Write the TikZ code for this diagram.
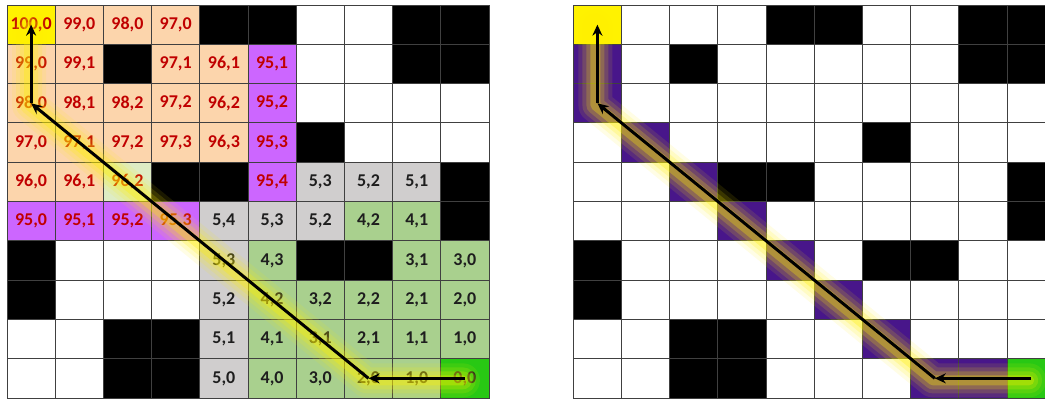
\documentclass[tikz,border=0pt]{standalone}
\usepackage{fontspec}
\setmainfont{Carlito}
\usetikzlibrary{arrows.meta}
\definecolor{peach}{RGB}{252,213,172}
\definecolor{viol}{RGB}{204,102,255}
\definecolor{grayc}{RGB}{208,206,206}
\definecolor{greenc}{RGB}{169,208,142}
\definecolor{paleg}{RGB}{222,236,196}
\definecolor{bgreen}{RGB}{40,200,20}
\definecolor{redt}{RGB}{192,0,0}
\definecolor{darkt}{RGB}{30,30,30}
\definecolor{dpurple}{RGB}{72,22,138}
\definecolor{gridl}{RGB}{64,64,64}
\definecolor{glowy}{RGB}{255,240,0}
\tikzset{
  cellbox/.style={draw=gridl, line width=1pt, minimum width=48.2pt, minimum height=39.3pt,
    inner sep=0pt, font=\fontsize{18}{20}\selectfont\bfseries},
  cY/.style={cellbox, fill=yellow, text=redt},
  cP/.style={cellbox, fill=peach, text=redt},
  cQ/.style={cellbox, fill=paleg, text=redt},
  cV/.style={cellbox, fill=viol, text=redt},
  cG/.style={cellbox, fill=grayc, text=darkt},
  cN/.style={cellbox, fill=greenc, text=darkt},
  cB/.style={cellbox, fill=bgreen, text=darkt},
  cK/.style={cellbox, fill=black},
  cW/.style={cellbox, fill=white},
  cD/.style={cellbox, fill=dpurple},
  arr/.style={draw=black, line width=3pt, -{Stealth[length=11pt,width=10pt]}},
}
\newcommand\gridrow[4]{%
  \foreach \s/\t [count=\c from 0] in {#4} {
    \node[c\s] (#1-#3-\c) at ({#2+(\c+0.5)*48.2},{5+(#3+0.5)*39.3}) {\t};
  }}
\newcommand\glowline[4]{%
  \foreach \w/\o in {34/0.10, 26/0.14, 18/0.2, 10/0.3} {
    \draw[glowy, line width=\w pt, opacity=\o, line cap=round, line join=round]
      ([shift={(-2,2)}]#1.center) -- ([shift={(-2,2)}]#2.center) -- ([shift={(-2,2)}]#3.center) -- ([shift={(-2,2)}]#4.center);
  }}
\begin{document}
\begin{tikzpicture}[x=1pt,y=-1pt]
\clip (0,0) rectangle (1045,400);
\fill[white] (0,0) rectangle (1045,400);
% left grid
\gridrow{L}{7}{0}{Y/100{,}0, P/99{,}0, P/98{,}0, P/97{,}0, K/{}, K/{}, W/{}, W/{}, K/{}, K/{}}
\gridrow{L}{7}{1}{P/99{,}0, P/99{,}1, K/{}, P/97{,}1, P/96{,}1, V/95{,}1, W/{}, W/{}, K/{}, K/{}}
\gridrow{L}{7}{2}{P/98{,}0, P/98{,}1, P/98{,}2, P/97{,}2, P/96{,}2, V/95{,}2, W/{}, W/{}, W/{}, W/{}}
\gridrow{L}{7}{3}{P/97{,}0, P/97{,}1, P/97{,}2, P/97{,}3, P/96{,}3, V/95{,}3, K/{}, W/{}, W/{}, W/{}}
\gridrow{L}{7}{4}{P/96{,}0, P/96{,}1, Q/96{,}2, K/{}, K/{}, V/95{,}4, G/5{,}3, G/5{,}2, G/5{,}1, K/{}}
\gridrow{L}{7}{5}{V/95{,}0, V/95{,}1, V/95{,}2, V/95{,}3, G/5{,}4, G/5{,}3, G/5{,}2, N/4{,}2, N/4{,}1, K/{}}
\gridrow{L}{7}{6}{K/{}, W/{}, W/{}, W/{}, G/5{,}3, N/4{,}3, K/{}, K/{}, N/3{,}1, N/3{,}0}
\gridrow{L}{7}{7}{K/{}, W/{}, W/{}, W/{}, G/5{,}2, N/4{,}2, N/3{,}2, N/2{,}2, N/2{,}1, N/2{,}0}
\gridrow{L}{7}{8}{W/{}, W/{}, K/{}, K/{}, G/5{,}1, N/4{,}1, N/3{,}1, N/2{,}1, N/1{,}1, N/1{,}0}
\gridrow{L}{7}{9}{W/{}, W/{}, K/{}, K/{}, G/5{,}0, N/4{,}0, N/3{,}0, N/2{,}0, N/1{,}0, B/0{,}0}
% right grid
\gridrow{R}{573.3}{0}{Y/{}, W/{}, W/{}, W/{}, K/{}, K/{}, W/{}, W/{}, K/{}, K/{}}
\gridrow{R}{573.3}{1}{D/{}, W/{}, K/{}, W/{}, W/{}, W/{}, W/{}, W/{}, K/{}, K/{}}
\gridrow{R}{573.3}{2}{D/{}, W/{}, W/{}, W/{}, W/{}, W/{}, W/{}, W/{}, W/{}, W/{}}
\gridrow{R}{573.3}{3}{W/{}, D/{}, W/{}, W/{}, W/{}, W/{}, K/{}, W/{}, W/{}, W/{}}
\gridrow{R}{573.3}{4}{W/{}, W/{}, D/{}, K/{}, K/{}, W/{}, W/{}, W/{}, W/{}, K/{}}
\gridrow{R}{573.3}{5}{W/{}, W/{}, W/{}, D/{}, W/{}, W/{}, W/{}, W/{}, W/{}, K/{}}
\gridrow{R}{573.3}{6}{K/{}, W/{}, W/{}, W/{}, D/{}, W/{}, K/{}, K/{}, W/{}, W/{}}
\gridrow{R}{573.3}{7}{K/{}, W/{}, W/{}, W/{}, W/{}, D/{}, W/{}, W/{}, W/{}, W/{}}
\gridrow{R}{573.3}{8}{W/{}, W/{}, K/{}, K/{}, W/{}, W/{}, D/{}, W/{}, W/{}, W/{}}
\gridrow{R}{573.3}{9}{W/{}, W/{}, K/{}, K/{}, W/{}, W/{}, W/{}, D/{}, D/{}, B/{}}
% glow
\glowline{L-9-9}{L-9-7}{L-2-0}{L-0-0}
\glowline{R-9-9}{R-9-7}{R-2-0}{R-0-0}
% arrows
\draw[arr] (L-9-9.center) -- (L-9-7.center);
\draw[arr] (L-9-7.center) -- (L-2-0.center);
\draw[arr] (L-2-0.center) -- (L-0-0.center);
\draw[arr] (R-9-9.center) -- (R-9-7.center);
\draw[arr] (R-9-7.center) -- (R-2-0.center);
\draw[arr] (R-2-0.center) -- (R-0-0.center);
\end{tikzpicture}
\end{document}
